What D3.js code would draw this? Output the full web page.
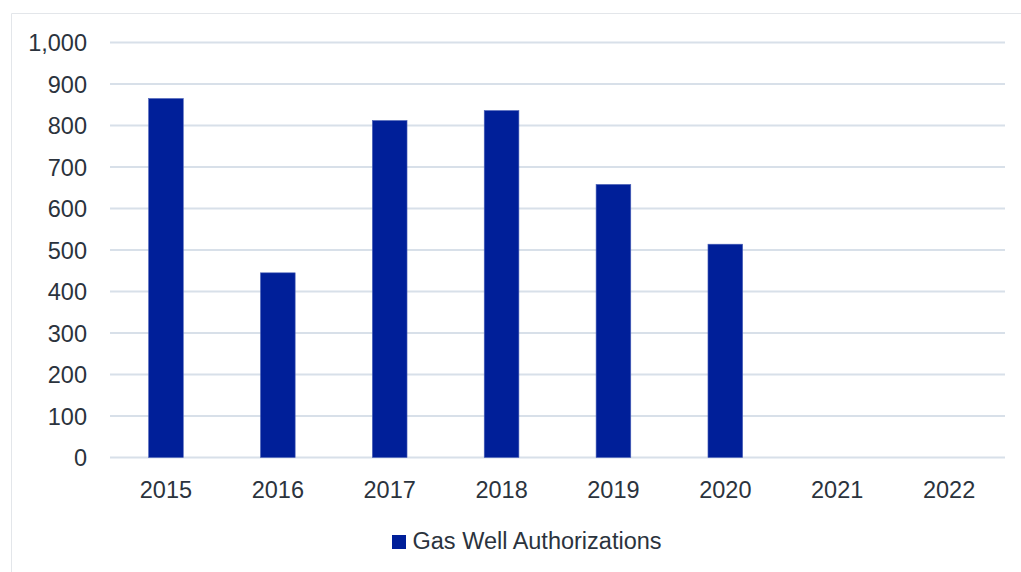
<!DOCTYPE html>
<html>
<head>
<meta charset="utf-8">
<script src="https://cdn.jsdelivr.net/npm/d3@7"></script>
<style>
  body { margin: 0; background: #fff; }
  svg { display: block; font-family: "Liberation Sans", Arial, sans-serif; }
</style>
</head>
<body>
<svg id="chart" width="1021" height="572"></svg>
<script>
const years = ["2015", "2016", "2017", "2018", "2019", "2020", "2021", "2022"];
const authorizations = [865, 445, 812, 836, 658, 514, null, null];
const yTicks = [0, 100, 200, 300, 400, 500, 600, 700, 800, 900, 1000];
const seriesName = "Gas Well Authorizations";

const width = 1021, height = 572;
const margin = {left: 110, right: 16, top: 42.5, bottom: 114.5};
const textColor = "#2b333d";
const barColor = "#001f99";
const fontSize = "23.5px";

const svg = d3.select("#chart");

// outer frame (only top and left visible)
svg.append("path")
    .attr("d", "M11.5,572 V13.5 H1021")
    .attr("fill", "none")
    .attr("stroke", "#e3e6ea")
    .attr("stroke-width", 1);

const x = d3.scaleBand()
    .domain(years)
    .range([margin.left, width - margin.right])
    .paddingInner(0.69)
    .paddingOuter(0.345);

const y = d3.scaleLinear()
    .domain([0, 1000])
    .range([height - margin.bottom, margin.top]);

//gridlines
svg.append("g")
    .selectAll("line")
    .data(yTicks)
    .enter()
    .append("line")
    .attr("x1", margin.left)
    .attr("x2", width - margin.right)
    .attr("y1", d => y(d))
    .attr("y2", d => y(d))
    .attr("stroke", "#d8e0e9")
    .attr("stroke-width", 2);

//y axis labels
const yAxis = svg.append("g")
    .attr("transform", `translate(${margin.left - 23},0)`)
    .call(d3.axisLeft(y).tickValues(yTicks).tickFormat(d3.format(",")).tickSize(0).tickPadding(0));
yAxis.select(".domain").remove();
yAxis.selectAll("text")
    .attr("fill", textColor)
    .attr("dy", "0.36em")
    .style("font-size", fontSize)
    .style("font-family", "Liberation Sans, Arial, sans-serif");

//bars
svg.append("g")
    .selectAll("rect")
    .data(years.map((d, i) => ({year: d, value: authorizations[i]})).filter(d => d.value != null))
    .enter()
    .append("rect")
    .attr("x", d => x(d.year))
    .attr("width", x.bandwidth())
    .attr("y", d => y(d.value))
    .attr("height", d => y(0) - y(d.value))
    .attr("fill", barColor)
    .attr("stroke", "#4d63b8")
    .attr("stroke-width", 0.6);

//x axis labels
const xAxis = svg.append("g")
    .attr("transform", `translate(0,${y(0) + 40})`)
    .call(d3.axisBottom(x).tickSize(0).tickPadding(0));
xAxis.select(".domain").remove();
xAxis.selectAll("text")
    .attr("fill", textColor)
    .attr("dy", "0")
    .style("font-size", fontSize)
    .style("font-family", "Liberation Sans, Arial, sans-serif");

//legend
const legend = svg.append("g").attr("transform", "translate(392,535)");
legend.append("rect")
    .attr("width", 14)
    .attr("height", 14)
    .attr("fill", barColor);
legend.append("text")
    .attr("x", 20.5)
    .attr("y", 14)
    .attr("fill", textColor)
    .style("font-size", fontSize)
    .text(seriesName);
</script>
</body>
</html>
